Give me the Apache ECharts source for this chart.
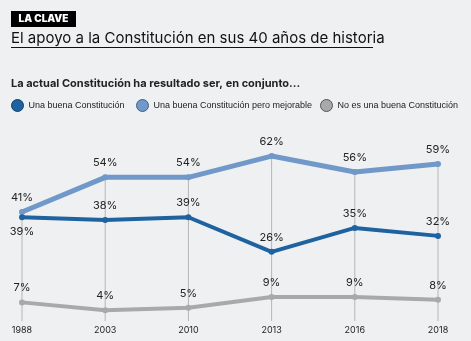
<!DOCTYPE html>
<html><head><meta charset="utf-8">
<script src="https://cdn.jsdelivr.net/npm/echarts@6/dist/echarts.min.js"></script>
<style>html,body{margin:0;padding:0;background:#eff0f2}#c{width:471px;height:341px}</style>
</head><body><div id="c"></div>
<script>
const years = ['1988','2003','2010','2013','2016','2018'];
const buena = [39,38,39,26,35,32];
const mejorable = [41,54,54,62,56,59];
const noBuena = [7,4,5,9,9,8];
const names = ['Una buena Constitución','Una buena Constitución pero mejorable','No es una buena Constitución'];
const colors = ['#1f62a0','#7098c9','#a9a9a9'];
const borders = ['#0e3f6e','#3f5f8a','#555555'];
const F = 'Inter, "Noto Sans", sans-serif';
const legendLefts = [11, 136, 320];

const chart = echarts.init(document.getElementById('c'));
const lbl = (pos) => ({show:true, position:pos, formatter:'{c}%', color:'#222', fontSize:11, fontFamily:F, distance:6});
chart.setOption({
  backgroundColor:'#eff0f2',
  animation:false,
  graphic:[
    {type:'rect', shape:{x:11,y:11,width:65,height:16}, style:{fill:'#000'}},
    {type:'text', x:43.5, y:19, style:{text:'LA CLAVE', fill:'#fff', font:'900 10px '+F, align:'center', verticalAlign:'middle'}},
    {type:'text', x:11, y:31, style:{text:'El apoyo a la Constitución en sus 40 años de historia', fill:'#111', font:'15px '+F}},
    {type:'rect', shape:{x:11,y:47,width:362,height:1}, style:{fill:'#111'}},
    {type:'text', x:11, y:78, style:{text:'La actual Constitución ha resultado ser, en conjunto...', fill:'#222', font:'bold 11px '+F}}
  ],
  legend: names.map((n,i)=>({
    left:legendLefts[i], top:99, icon:'circle', itemWidth:12, itemHeight:12, padding:0,
    textStyle:{fontSize:9, color:'#222', fontFamily:'"Liberation Sans", Arial, sans-serif'},
    data:[{name:n, itemStyle:{color:colors[i], borderColor:borders[i], borderWidth:1}}]
  })),
  grid:{left:22, right:33, top:134.8, bottom:20},
  xAxis:{type:'category', data:years, boundaryGap:false,
    axisLine:{show:false}, axisTick:{show:false},
    axisLabel:{color:'#222', fontSize:9, fontFamily:F, margin:5}},
  yAxis:{type:'value', min:0, max:70, show:false, splitLine:{show:false}},
  series:[
    {type:'bar', data:mejorable, barWidth:1, itemStyle:{color:'#b5b5b5'}, silent:true, z:1},
    {name:names[0], type:'line', data: buena.map((v,i)=> i===0 ? {value:v, label:{position:'bottom'}} : v),
      lineStyle:{width:4, color:colors[0]}, itemStyle:{color:colors[0]}, symbol:'circle', symbolSize:6, z:3, label:lbl('top')},
    {name:names[1], type:'line', data:mejorable, lineStyle:{width:5, color:colors[1]}, itemStyle:{color:colors[1]}, symbol:'circle', symbolSize:6, z:2, label:lbl('top')},
    {name:names[2], type:'line', data:noBuena, lineStyle:{width:4, color:colors[2]}, itemStyle:{color:colors[2]}, symbol:'circle', symbolSize:6, z:2, label:lbl('top')}
  ]
});
</script></body></html>
